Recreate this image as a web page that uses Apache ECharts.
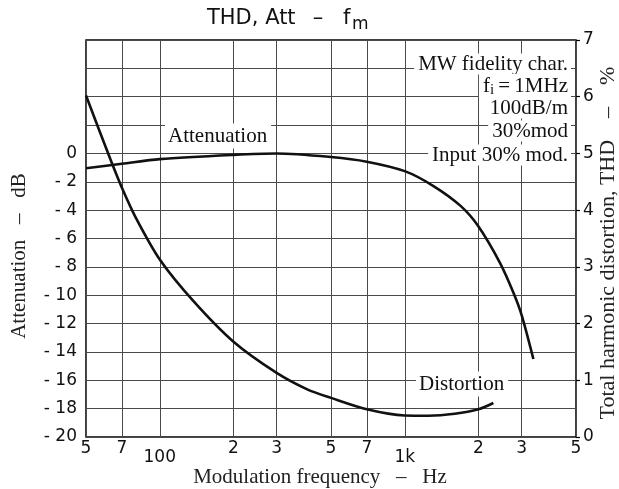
<!DOCTYPE html>
<html><head><meta charset="utf-8">
<script src="https://cdn.jsdelivr.net/npm/echarts@6/dist/echarts.min.js"></script>
<style>html,body{margin:0;padding:0;background:#fff}#c{width:619px;height:489px}</style>
</head><body><div id="c"></div>
<script>
// ---- data ----
const freqTicks = [50, 70, 100, 200, 300, 500, 700, 1000, 2000, 3000, 5000];
const freqTickLabels = ['5', '7', '100', '2', '3', '5', '7', '1k', '2', '3', '5'];
const attTickValues = [-20, -18, -16, -14, -12, -10, -8, -6, -4, -2, 0];
const attTickLabels = ['- 20', '- 18', '- 16', '- 14', '- 12', '- 10', '- 8', '- 6', '- 4', '- 2', '0'];
const thdTickValues = [0, 1, 2, 3, 4, 5, 6, 7];
const thdTickLabels = ['0', '1', '2', '3', '4', '5', '6', '7'];

// Attenuation (dB) vs modulation frequency (Hz)
const attFreq = [50, 70, 100, 200, 300, 500, 700, 1000, 1310, 1690, 2000, 2450, 2780, 3000, 3350];
const attValues = [-1.04, -0.73, -0.4, -0.1, 0, -0.25, -0.58, -1.25, -2.3, -3.7, -5.15, -7.73, -9.84, -11.4, -14.5];
// THD (%) vs modulation frequency (Hz)
const thdFreq = [50, 63, 70, 80, 100, 137, 200, 300, 400, 500, 700, 1000, 1250, 1600, 2000, 2300];
const thdValues = [6.02, 4.89, 4.4, 3.86, 3.13, 2.4, 1.68, 1.13, 0.84, 0.69, 0.49, 0.38, 0.375, 0.41, 0.49, 0.6];

const noteLines = ['MW fidelity char.', 'f_i = 1MHz', '100dB/m', '30%mod', 'Input 30% mod.'];

// ---- chart ----
const chart = echarts.init(document.getElementById('c'), null, {renderer: 'canvas'});
const gridCol = '#4a4a4a';
const numFont = 'DejaVu Sans';
const serif = 'Liberation Serif';
const ink = '#111';

const noteY = [64, 86, 108, 131, 155];
const noteGraphics = noteLines.map((t, i) => {
  let text = t, rich;
  if (t.startsWith('f_i')) {
    text = '{n|f}{s|i}{n|\u2009=\u20091MHz}';
    rich = {n: {fontFamily: serif, fontSize: 21, fill: ink, lineHeight: 24},
            s: {fontFamily: serif, fontSize: 15, fill: ink, verticalAlign: 'bottom', lineHeight: 24}};
  }
  return {
    type: 'text', x: 571, y: noteY[i], z: 100,
    style: {text: text, rich: rich, font: '21px "Liberation Serif"', fill: ink,
            align: 'right', verticalAlign: 'middle', backgroundColor: '#fff', padding: [0, 3, 0, 4]}
  };
});

const option = {
  animation: false,
  backgroundColor: '#fff',
  grid: {left: 86, right: 43, top: 40, bottom: 52, show: true, borderColor: '#000', borderWidth: 1.5, backgroundColor: 'transparent'},
  xAxis: {
    type: 'log', logBase: 10, min: 50, max: 5000,
    axisLine: {show: false},
    axisTick: {show: false, customValues: freqTicks},
    splitLine: {show: true, lineStyle: {color: gridCol, width: 1}},
    axisLabel: {
      customValues: freqTicks, showMinLabel: true, showMaxLabel: true,
      margin: 3, fontFamily: numFont, fontSize: 17, color: ink,
      formatter: v => {
        const i = freqTicks.indexOf(Math.round(v));
        if (i < 0) return '';
        const s = freqTickLabels[i];
        return (s === '100' || s === '1k') ? '{lo|' + s + '}' : s;
      },
      rich: {lo: {fontFamily: numFont, fontSize: 17, color: ink, padding: [9, 0, 0, 0]}}
    }
  },
  yAxis: [
    {
      type: 'value', min: -20, max: 8, interval: 2, position: 'left',
      axisLine: {show: false}, axisTick: {show: false},
      splitLine: {show: true, lineStyle: {color: gridCol, width: 1}},
      axisLabel: {
        margin: 9, fontFamily: numFont, fontSize: 17, color: ink,
        formatter: v => { const i = attTickValues.indexOf(v); return i < 0 ? '' : attTickLabels[i]; }
      }
    },
    {
      type: 'value', min: 0, max: 7, interval: 1, position: 'right',
      axisLine: {show: false},
      axisTick: {show: true, inside: false, length: 4, lineStyle: {color: '#000', width: 1.2}},
      splitLine: {show: false},
      axisLabel: {
        margin: 7, fontFamily: numFont, fontSize: 17, color: ink, showMaxLabel: true,
        formatter: v => { const i = thdTickValues.indexOf(v); return i < 0 ? '' : thdTickLabels[i]; }
      }
    }
  ],
  series: [
    {
      name: 'Attenuation', type: 'line', yAxisIndex: 0, symbol: 'none', smooth: 0.3,
      lineStyle: {color: ink, width: 2.6}, z: 5,
      data: attFreq.map((f, i) => [f, attValues[i]])
    },
    {
      name: 'Distortion', type: 'line', yAxisIndex: 1, symbol: 'none', smooth: 0.3,
      lineStyle: {color: ink, width: 2.6}, z: 5,
      data: thdFreq.map((f, i) => [f, thdValues[i]])
    }
  ],
  graphic: [
    // title
    {type: 'text', x: 207, y: 19, style: {text: 'THD, Att', font: '21px "DejaVu Sans"', fill: ink, align: 'left', verticalAlign: 'middle'}},
    {type: 'text', x: 318, y: 19, style: {text: '\u2013', font: '21px "DejaVu Sans"', fill: ink, align: 'center', verticalAlign: 'middle'}},
    {type: 'text', x: 343, y: 19, style: {text: 'f', font: '21px "DejaVu Sans"', fill: ink, align: 'left', verticalAlign: 'middle'}},
    {type: 'text', x: 352, y: 25, style: {text: 'm', font: '17px "DejaVu Sans"', fill: ink, align: 'left', verticalAlign: 'middle'}},
    // axis names
    {type: 'text', x: 19, y: 256, rotation: Math.PI / 2,
     style: {text: 'Attenuation\u2002 \u2013\u2002 dB', font: '21px "Liberation Serif"', fill: '#222', align: 'center', verticalAlign: 'middle'}},
    {type: 'text', x: 608, y: 243, rotation: Math.PI / 2,
     style: {text: 'Total harmonic distortion, THD\u2003\u2013\u2003%', font: '22px "Liberation Serif"', fill: '#222', align: 'center', verticalAlign: 'middle'}},
    {type: 'text', x: 320, y: 477,
     style: {text: 'Modulation frequency\u2002 \u2013\u2002 Hz', font: '21px "Liberation Serif"', fill: '#222', align: 'center', verticalAlign: 'middle'}},
    // curve labels
    {type: 'text', x: 165, y: 136, z: 100,
     style: {text: 'Attenuation', font: '21px "Liberation Serif"', fill: ink, align: 'left', verticalAlign: 'middle', backgroundColor: '#fff', padding: [2, 4, 2, 3]}},
    {type: 'text', x: 416, y: 384, z: 100,
     style: {text: 'Distortion', font: '21px "Liberation Serif"', fill: ink, align: 'left', verticalAlign: 'middle', backgroundColor: '#fff', padding: [2, 4, 2, 3]}}
  ].concat(noteGraphics)
};
chart.setOption(option);
</script>
</body></html>
